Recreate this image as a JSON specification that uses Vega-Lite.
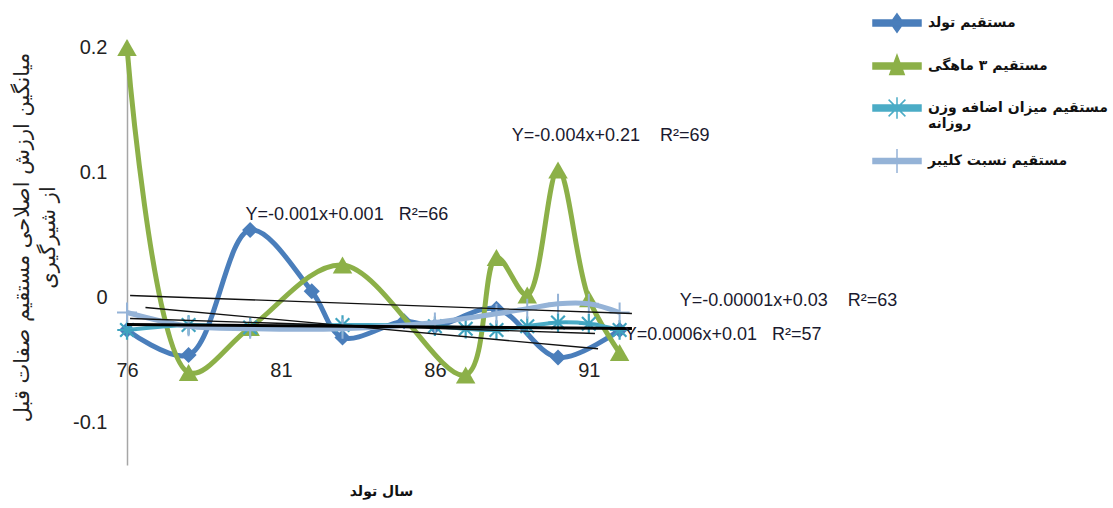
{
  "$schema": "https://vega.github.io/schema/vega-lite/v6.json",
  "width": 508,
  "height": 425,
  "autosize": {"type": "none"},
  "padding": {"left": 127, "top": 40, "right": 478, "bottom": 43},
  "background": "white",
  "config": {
    "view": {"stroke": null},
    "axis": {"grid": false},
    "legend": {
      "orient": "none",
      "legendX": 745,
      "legendY": -42,
      "padding": 0,
      "rowPadding": 5,
      "symbolSize": 2304,
      "symbolStrokeWidth": 1.5,
      "labelFont": "DejaVu Sans",
      "labelFontSize": 14,
      "labelFontWeight": "bold",
      "labelColor": "#111",
      "labelLimit": 400,
      "labelOffset": 6
    }
  },
  "datasets": {
    "series": [
      {"series": "مستقیم تولد", "year": 76, "value": -0.026},
      {"series": "مستقیم تولد", "year": 78, "value": -0.046},
      {"series": "مستقیم تولد", "year": 80, "value": 0.054},
      {"series": "مستقیم تولد", "year": 82, "value": 0.005},
      {"series": "مستقیم تولد", "year": 83, "value": -0.032},
      {"series": "مستقیم تولد", "year": 85, "value": -0.019},
      {"series": "مستقیم تولد", "year": 86, "value": -0.023},
      {"series": "مستقیم تولد", "year": 88, "value": -0.009},
      {"series": "مستقیم تولد", "year": 90, "value": -0.048},
      {"series": "مستقیم تولد", "year": 92, "value": -0.026},
      {"series": "مستقیم ۳ ماهگی", "year": 76, "value": 0.2},
      {"series": "مستقیم ۳ ماهگی", "year": 78, "value": -0.06},
      {"series": "مستقیم ۳ ماهگی", "year": 80, "value": -0.024},
      {"series": "مستقیم ۳ ماهگی", "year": 83, "value": 0.026},
      {"series": "مستقیم ۳ ماهگی", "year": 87, "value": -0.062},
      {"series": "مستقیم ۳ ماهگی", "year": 88, "value": 0.032},
      {"series": "مستقیم ۳ ماهگی", "year": 89, "value": 0.002},
      {"series": "مستقیم ۳ ماهگی", "year": 90, "value": 0.102},
      {"series": "مستقیم ۳ ماهگی", "year": 91, "value": -0.001},
      {"series": "مستقیم ۳ ماهگی", "year": 92, "value": -0.044},
      {"series": "مستقیم میزان اضافه وزن روزانه", "year": 76, "value": -0.026},
      {"series": "مستقیم میزان اضافه وزن روزانه", "year": 78, "value": -0.022},
      {"series": "مستقیم میزان اضافه وزن روزانه", "year": 80, "value": -0.024},
      {"series": "مستقیم میزان اضافه وزن روزانه", "year": 83, "value": -0.022},
      {"series": "مستقیم میزان اضافه وزن روزانه", "year": 86, "value": -0.023},
      {"series": "مستقیم میزان اضافه وزن روزانه", "year": 87, "value": -0.025},
      {"series": "مستقیم میزان اضافه وزن روزانه", "year": 88, "value": -0.026},
      {"series": "مستقیم میزان اضافه وزن روزانه", "year": 89, "value": -0.023},
      {"series": "مستقیم میزان اضافه وزن روزانه", "year": 90, "value": -0.02},
      {"series": "مستقیم میزان اضافه وزن روزانه", "year": 91, "value": -0.021},
      {"series": "مستقیم میزان اضافه وزن روزانه", "year": 92, "value": -0.026},
      {"series": "مستقیم نسبت کلیبر", "year": 76, "value": -0.012},
      {"series": "مستقیم نسبت کلیبر", "year": 78, "value": -0.023},
      {"series": "مستقیم نسبت کلیبر", "year": 80, "value": -0.025},
      {"series": "مستقیم نسبت کلیبر", "year": 83, "value": -0.025},
      {"series": "مستقیم نسبت کلیبر", "year": 86, "value": -0.02},
      {"series": "مستقیم نسبت کلیبر", "year": 88, "value": -0.013},
      {"series": "مستقیم نسبت کلیبر", "year": 89, "value": -0.009},
      {"series": "مستقیم نسبت کلیبر", "year": 90, "value": -0.005},
      {"series": "مستقیم نسبت کلیبر", "year": 91, "value": -0.005},
      {"series": "مستقیم نسبت کلیبر", "year": 92, "value": -0.012}
    ],
    "trends": [
      {"trend": "T1", "year": 76.1, "value": 0.0016},
      {"trend": "T1", "year": 92.4, "value": -0.0128},
      {"trend": "T2", "year": 76.6, "value": -0.008},
      {"trend": "T2", "year": 91.3, "value": -0.041},
      {"trend": "T3", "year": 76, "value": -0.0216},
      {"trend": "T3", "year": 92.4, "value": -0.0248},
      {"trend": "T4", "year": 76.1, "value": -0.0168},
      {"trend": "T4", "year": 91.2, "value": -0.0288}
    ],
    "labels": [
      {"label": "Y=-0.001x+0.001\u00a0\u00a0\u00a0R²=66", "year": 79.85, "value": 0.066},
      {"label": "Y=-0.004x+0.21\u00a0\u00a0\u00a0\u00a0R²=69", "year": 88.5, "value": 0.129},
      {"label": "Y=-0.00001x+0.03\u00a0\u00a0\u00a0\u00a0R²=63", "year": 93.95, "value": -0.0024},
      {"label": "Y=0.0006x+0.01\u00a0\u00a0\u00a0R²=57", "year": 92.17, "value": -0.03}
    ]
  },
  "data": {"name": "series"},
  "encoding": {
    "x": {
      "field": "year",
      "type": "quantitative",
      "scale": {"domain": [76, 92.5], "nice": false, "zero": false},
      "axis": {
        "values": [76, 81, 86, 91],
        "offset": -107,
        "domain": false,
        "ticks": false,
        "labelFlush": false,
        "labelPadding": 2,
        "labelFont": "Liberation Sans",
        "labelFontSize": 20,
        "labelColor": "#222",
        "title": "سال تولد",
        "titleFont": "DejaVu Sans",
        "titleFontSize": 14,
        "titleFontWeight": "bold",
        "titleColor": "#111",
        "titlePadding": 104
      }
    },
    "y": {
      "field": "value",
      "type": "quantitative",
      "scale": {"domain": [-0.134, 0.206], "nice": false, "zero": false},
      "axis": {
        "values": [-0.1, 0, 0.1, 0.2],
        "labelExpr": "'' + datum.value",
        "domainColor": "#A6A6A6",
        "domainWidth": 1.5,
        "ticks": false,
        "labelPadding": 20,
        "labelFont": "Liberation Sans",
        "labelFontSize": 20,
        "labelColor": "#222",
        "title": ["میانگین ارزش اصلاحی مستقیم صفات قبل", "از شیرگیری"],
        "titleAngle": -90,
        "titleX": -116,
        "titleY": 197,
        "titleAlign": "center",
        "titleBaseline": "top",
        "titleLineHeight": 26,
        "titleFont": "DejaVu Sans",
        "titleFontSize": 21,
        "titleFontWeight": "normal",
        "titleColor": "#222"
      }
    }
  },
  "layer": [
    {
      "transform": [{"filter": {"field": "series", "equal": "مستقیم تولد"}}],
      "mark": {"type": "line", "interpolate": "catmull-rom", "color": "#4A7EBB", "strokeWidth": 5}
    },
    {
      "transform": [{"filter": {"field": "series", "equal": "مستقیم تولد"}}],
      "mark": {"type": "point", "shape": "diamond", "filled": true, "color": "#4A7EBB", "opacity": 1, "size": 260}
    },
    {
      "transform": [{"filter": {"field": "series", "equal": "مستقیم ۳ ماهگی"}}],
      "mark": {"type": "line", "interpolate": "catmull-rom", "color": "#8CB048", "strokeWidth": 5}
    },
    {
      "transform": [{"filter": {"field": "series", "equal": "مستقیم ۳ ماهگی"}}],
      "mark": {"type": "point", "shape": "triangle-up", "filled": true, "color": "#8CB048", "opacity": 1, "size": 380}
    },
    {
      "transform": [{"filter": {"field": "series", "equal": "مستقیم میزان اضافه وزن روزانه"}}],
      "mark": {"type": "line", "interpolate": "catmull-rom", "color": "#4BACC6", "strokeWidth": 4}
    },
    {
      "transform": [{"filter": {"field": "series", "equal": "مستقیم میزان اضافه وزن روزانه"}}],
      "mark": {"type": "point", "shape": "M-1,0H1M0,-1V1M-0.7,-0.7L0.7,0.7M-0.7,0.7L0.7,-0.7", "filled": false, "color": "#3FA3BF", "opacity": 1, "strokeWidth": 2.2, "size": 380}
    },
    {
      "transform": [{"filter": {"field": "series", "equal": "مستقیم نسبت کلیبر"}}],
      "mark": {"type": "line", "interpolate": "catmull-rom", "color": "#95B3D7", "strokeWidth": 5}
    },
    {
      "transform": [{"filter": {"field": "series", "equal": "مستقیم نسبت کلیبر"}}],
      "mark": {"type": "point", "shape": "M-1,0H1M0,-1V1", "filled": false, "color": "#95B3D7", "opacity": 1, "strokeWidth": 2, "size": 400}
    },
    {
      "data": {"name": "trends"},
      "transform": [{"filter": "datum.trend != 'T3'"}],
      "mark": {"type": "line", "color": "#111", "strokeWidth": 1.3},
      "encoding": {"detail": {"field": "trend", "type": "nominal"}}
    },
    {
      "data": {"name": "trends"},
      "transform": [{"filter": "datum.trend == 'T3'"}],
      "mark": {"type": "line", "color": "#000", "strokeWidth": 3},
      "encoding": {}
    },
    {
      "data": {"name": "labels"},
      "mark": {"type": "text", "align": "left", "baseline": "middle", "font": "Liberation Sans", "fontSize": 18, "color": "#1a1a2e"},
      "encoding": {"text": {"field": "label", "type": "nominal"}}
    },
    {
      "transform": [{"filter": "false"}],
      "mark": {"type": "point", "filled": true, "opacity": 1},
      "encoding": {
        "fill": {
          "field": "series", "type": "nominal", "title": null,
          "scale": {
            "domain": ["مستقیم تولد", "مستقیم ۳ ماهگی", "مستقیم میزان اضافه وزن روزانه", "مستقیم نسبت کلیبر"],
            "range": ["#4A7EBB", "#8CB048", "#4BACC6", "#95B3D7"]
          },
          "legend": {"labelExpr": "datum.label == 'مستقیم میزان اضافه وزن روزانه' ? ['مستقیم میزان اضافه وزن', 'روزانه'] : datum.label"}
        },
        "stroke": {
          "field": "series", "type": "nominal", "title": null,
          "scale": {
            "domain": ["مستقیم تولد", "مستقیم ۳ ماهگی", "مستقیم میزان اضافه وزن روزانه", "مستقیم نسبت کلیبر"],
            "range": ["#4A7EBB", "#8CB048", "#4BACC6", "#95B3D7"]
          }
        },
        "shape": {
          "field": "series", "type": "nominal", "title": null,
          "scale": {
            "domain": ["مستقیم تولد", "مستقیم ۳ ماهگی", "مستقیم میزان اضافه وزن روزانه", "مستقیم نسبت کلیبر"],
            "range": [
              "M-1,-0.12H1V0.12H-1ZM0,-0.38L0.27,0L0,0.38L-0.27,0Z",
              "M-1,-0.12H1V0.12H-1ZM0,-0.45L0.3,0.35L-0.3,0.35Z",
              "M-1,-0.12H1V0.12H-1ZM0,-0.45V0.45M-0.35,-0.35L0.35,0.35M-0.35,0.35L0.35,-0.35",
              "M-1,-0.1H1V0.1H-1ZM0,-0.5V0.5"
            ]
          }
        }
      }
    }
  ]
}
